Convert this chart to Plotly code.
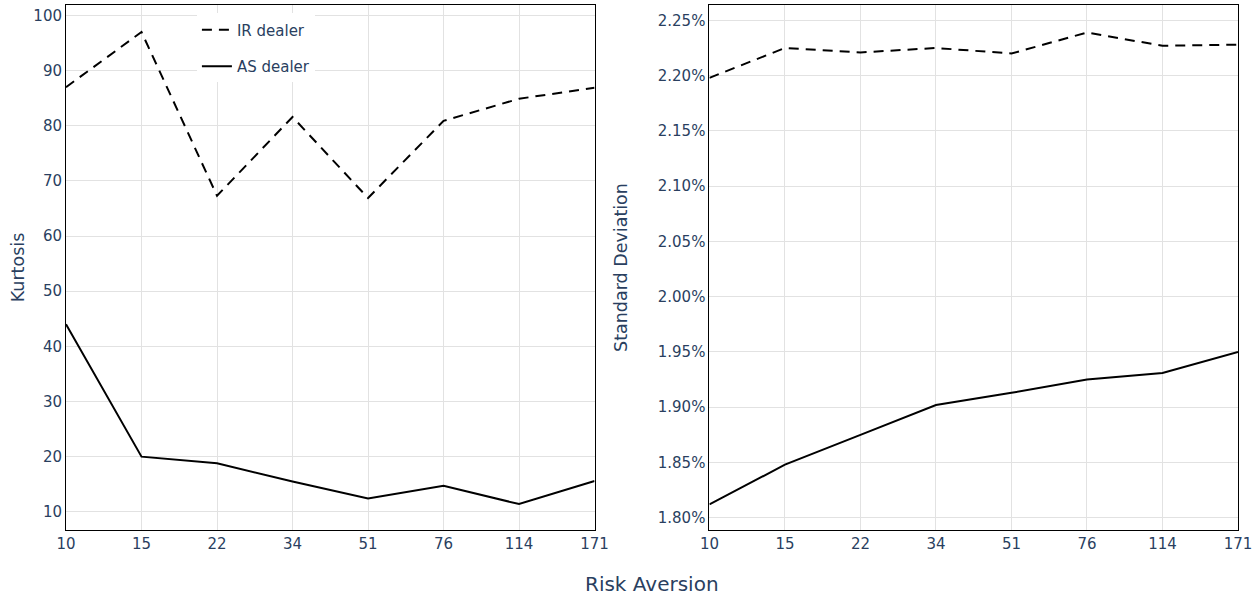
import plotly.graph_objects as go
from plotly.subplots import make_subplots

risk_aversion = ["10", "15", "22", "34", "51", "76", "114", "171"]
kurtosis_ir = [87.0, 97.0, 67.3, 81.6, 66.9, 80.9, 84.9, 86.9]
kurtosis_as = [44.0, 20.0, 18.8, 15.5, 12.4, 14.7, 11.4, 15.6]
std_ir = [0.02198, 0.02225, 0.02221, 0.02225, 0.02220, 0.02239, 0.02227, 0.02228]
std_as = [0.01812, 0.01848, 0.01875, 0.01902, 0.01913, 0.01925, 0.01931, 0.01950]

FONT = "Verdana, DejaVu Sans, sans-serif"
TXT = "#2a3f5f"

fig = make_subplots(rows=1, cols=2, horizontal_spacing=0.098)

fig.add_trace(go.Scatter(x=risk_aversion, y=kurtosis_ir, mode="lines", name="IR dealer",
                         legendgroup="ir",
                         line=dict(color="black", width=2, dash="10px,7px")), row=1, col=1)
fig.add_trace(go.Scatter(x=risk_aversion, y=kurtosis_as, mode="lines", name="AS dealer",
                         legendgroup="as",
                         line=dict(color="black", width=2)), row=1, col=1)
fig.add_trace(go.Scatter(x=risk_aversion, y=std_ir, mode="lines", name="IR dealer",
                         legendgroup="ir", showlegend=False,
                         line=dict(color="black", width=2, dash="10px,7px")), row=1, col=2)
fig.add_trace(go.Scatter(x=risk_aversion, y=std_as, mode="lines", name="AS dealer",
                         legendgroup="as", showlegend=False,
                         line=dict(color="black", width=2)), row=1, col=2)

axis_common = dict(showgrid=True, gridcolor="#e2e2e2", gridwidth=1,
                   showline=True, linecolor="black", linewidth=1, mirror=True,
                   ticks="", zeroline=False,
                   tickfont=dict(family=FONT, size=15, color=TXT))

fig.update_xaxes(**axis_common, type="category", range=[0, 7])
fig.update_yaxes(**axis_common)
fig.update_yaxes(range=[6.7, 101.9], dtick=10, row=1, col=1,
                 title=dict(text="Kurtosis", standoff=4,
                            font=dict(family=FONT, size=17.5, color=TXT)))
fig.update_yaxes(range=[0.017889, 0.022639], dtick=0.0005, tickformat=".2%", row=1, col=2,
                 title=dict(text="Standard Deviation", standoff=25,
                            font=dict(family=FONT, size=17.5, color=TXT)))

fig.add_annotation(text="Risk Aversion", x=0.5, y=0, xref="paper", yref="paper",
                   xanchor="center", yanchor="top", yshift=-40, showarrow=False,
                   font=dict(family=FONT, size=20, color=TXT))

fig.update_layout(
    width=1257, height=599,
    margin=dict(l=66, r=19, t=5, b=69),
    paper_bgcolor="white", plot_bgcolor="white",
    font=dict(family=FONT, color=TXT),
    legend=dict(x=0.1117, y=0.984, xanchor="left", yanchor="top",
                bgcolor="white", tracegroupgap=14,
                font=dict(family=FONT, size=15, color=TXT)),
)

fig.write_html("out.html", config={"displayModeBar": False},
               post_script="document.body.style.margin='0';")
